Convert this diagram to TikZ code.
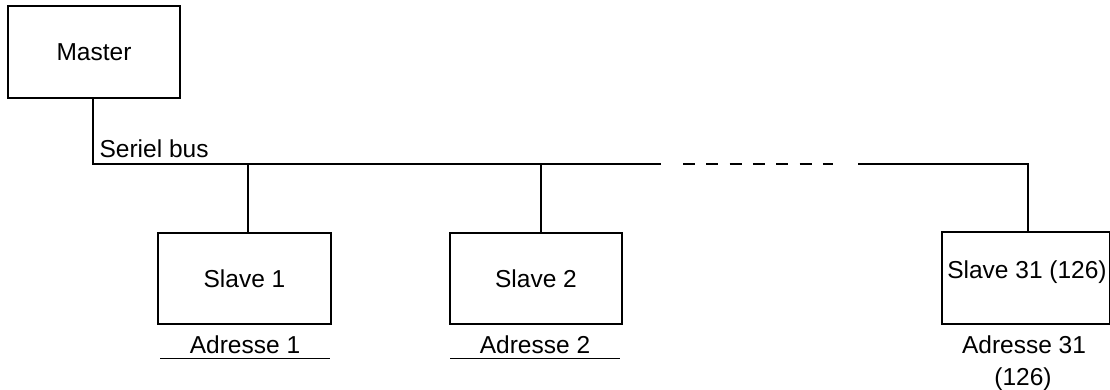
\documentclass[tikz,border=0pt]{standalone}
\usepackage{fontspec}
\setmainfont{Liberation Sans}
\begin{document}
\begin{tikzpicture}[x=1pt,y=-1pt,
  line width=1.2pt,
  unit/.style={draw, line width=1.2pt, rectangle, inner sep=0pt, align=center},
  lbl/.style={inner sep=0pt, font=\fontsize{24.5}{28}\selectfont},
  addr/.style={lbl, anchor=base},
  bus/.style={line width=1.2pt},
  gap/.style={line width=2.6pt, dash pattern=on 12pt off 11.3pt}]
  \useasboundingbox (0,0) rectangle (1110,390);
  \fill[white] (0,0) rectangle (1110,390);

  % master and the serial bus
  \node[unit, minimum width=172pt, minimum height=92pt, lbl] (master) at (94,52) {Master};
  \coordinate (busL) at (93,164);
  \coordinate (busM) at (661,164);
  \coordinate (dashA) at (683,164);
  \coordinate (dashB) at (833,164);
  \coordinate (busR0) at (858,164);
  \coordinate (busR) at (1028,164);
  \coordinate (tap1) at (248,164);
  \coordinate (tap2) at (541,164);

  \node[lbl, anchor=base west] (buslbl) at (99,158) {Seriel bus};

  % slaves
  \node[unit, minimum width=173pt, minimum height=91pt, lbl] (s1) at (244.5,278.5) {Slave 1};
  \node[unit, minimum width=172pt, minimum height=91pt, lbl] (s2) at (536,278.5) {Slave 2};
  \node[unit, minimum width=168pt, minimum height=92pt] (s31) at (1026,278) {};
  \node[lbl] (s31t) at (1027,272) {Slave 31 (126)};

  % addresses
  \node[addr] (a1) at (245,353) {Adresse 1};
  \node[addr] (a2) at (535,353) {Adresse 2};
  \node[addr] (a31) at (1024,353) {Adresse 31};
  \node[addr] (a31b) at (1023,385) {(126)};
  \coordinate (u1L) at (160,358);
  \coordinate (u1R) at (330,358);
  \coordinate (u2L) at (450,358);
  \coordinate (u2R) at (620,358);
  \draw[line width=0.9pt] (u1L) -- (u1R);
  \draw[line width=0.9pt] (u2L) -- (u2R);

  % connectors
  \draw[bus] (master.south -| busL) -- (busL) -- (busM);
  \draw[gap] (dashA) -- (dashB);
  \draw[bus] (busR0) -- (busR) -- (busR |- s31.north);
  \draw[bus] (tap1) -- (tap1 |- s1.north);
  \draw[bus] (tap2) -- (tap2 |- s2.north);
\end{tikzpicture}
\end{document}
